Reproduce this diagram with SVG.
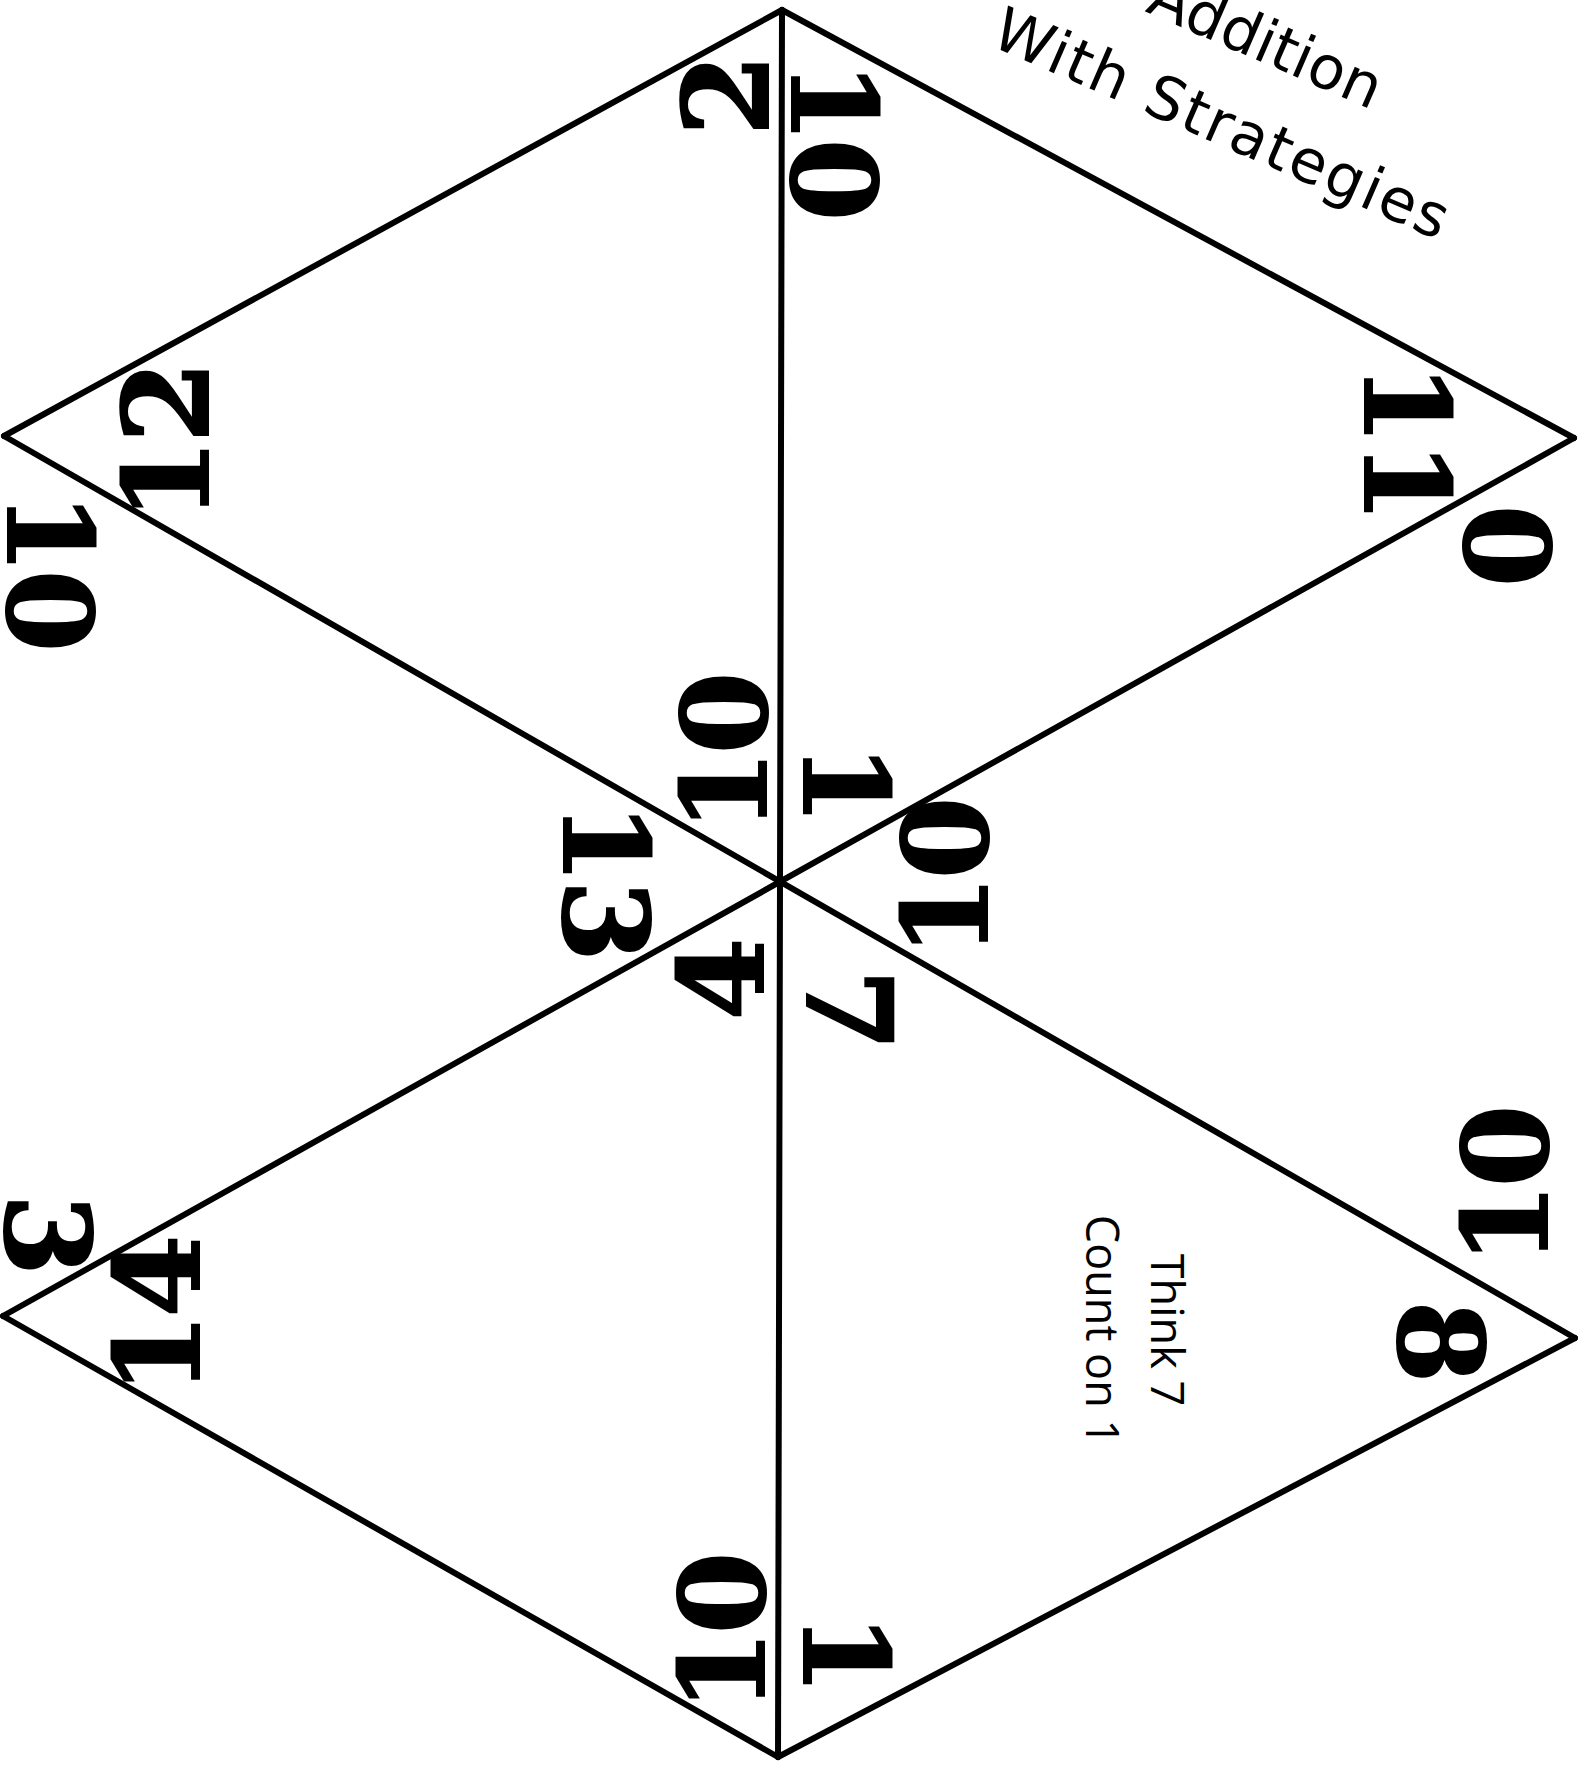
<svg xmlns="http://www.w3.org/2000/svg" width="1578" height="1765" viewBox="0 0 1578 1765">
<style>
.edge{stroke:#000;stroke-width:6;fill:none;stroke-linecap:round;stroke-linejoin:round}
.num{font-family:"DejaVu Serif","Liberation Serif",serif;font-weight:bold;font-size:118px;fill:#000;stroke:#000;stroke-width:2;text-anchor:middle;letter-spacing:-4px}
.hint{font-family:"Open Sans","Noto Sans","Liberation Sans",sans-serif;font-size:45px;fill:#000;text-anchor:middle}
.title{font-family:"DejaVu Sans","Liberation Sans",sans-serif;font-size:60px;fill:#000;text-anchor:middle}
</style>
<rect width="1578" height="1765" fill="#fff"/>
<g id="connectors">
<line class="edge" x1="782" y1="10" x2="778" y2="1757"/>
<line class="edge" x1="782" y1="10" x2="4" y2="436"/>
<line class="edge" x1="782" y1="10" x2="1574" y2="438"/>
<line class="edge" x1="4" y1="436" x2="1575" y2="1338"/>
<line class="edge" x1="1574" y1="438" x2="3" y2="1316"/>
<line class="edge" x1="3" y1="1316" x2="778" y2="1757"/>
<line class="edge" x1="1575" y1="1338" x2="778" y2="1757"/>
</g>
<g id="title" transform="translate(987,44) rotate(23.5)">
<text class="title" x="255" y="-93">Addition</text>
<text class="title" x="247" y="0" textLength="490" lengthAdjust="spacing">With Strategies</text>
</g>
<g id="tri-top-left">
<text class="num" transform="translate(725,97) rotate(-90)" y="43">2</text>
<text class="num" transform="translate(165,443) rotate(-90)" y="43">12</text>
<text class="num" transform="translate(723,754) rotate(-90)" y="43">10</text>
</g>
<g id="tri-top-right">
<text class="num" transform="translate(835,139) rotate(90)" y="43">10</text>
<text class="num" transform="translate(847,782) rotate(90)" y="43">1</text>
<text class="num" transform="translate(1408,441) rotate(90)" y="43">11</text>
</g>
<g id="tri-right">
<text class="num" transform="translate(1507,548) rotate(-90)" y="43">0</text>
<text class="num" transform="translate(944,879) rotate(-90)" y="43">10</text>
<text class="num" transform="translate(1504,1187) rotate(-90)" y="43">10</text>
</g>
<g id="tri-bottom-right">
<text class="num" transform="translate(850,1008) rotate(90)" y="43">7</text>
<text class="num" transform="translate(1442,1340) rotate(90)" y="43">8</text>
<text class="num" transform="translate(847,1652) rotate(90)" y="43">1</text>
<g transform="translate(1137,1330) rotate(90)">
<text class="hint" x="0" y="-14">Think 7</text>
<text class="hint" x="0" y="51">Count on 1</text>
</g>
</g>
<g id="tri-bottom-left">
<text class="num" transform="translate(720,981) rotate(-90)" y="43">4</text>
<text class="num" transform="translate(156,1317) rotate(-90)" y="43">14</text>
<text class="num" transform="translate(721,1634) rotate(-90)" y="43">10</text>
</g>
<g id="tri-left">
<text class="num" transform="translate(51,570) rotate(90)" y="43">10</text>
<text class="num" transform="translate(607,880) rotate(90)" y="43">13</text>
<text class="num" transform="translate(49,1233) rotate(90)" y="43">3</text>
</g>
</svg>
